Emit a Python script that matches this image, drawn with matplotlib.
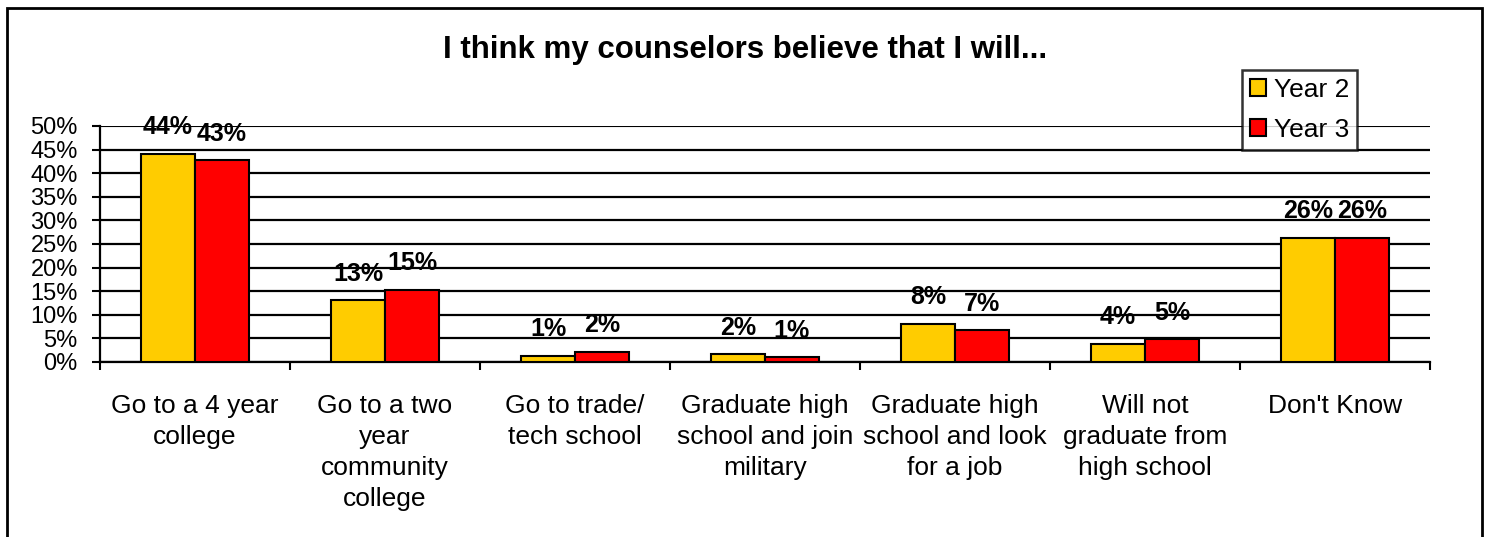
import numpy as np
import matplotlib.pyplot as plt
from matplotlib.patches import Rectangle
from matplotlib.ticker import PercentFormatter, FixedLocator

plt.rcParams['font.family'] = ['Liberation Sans', 'DejaVu Sans']

# --- data ---
categories = [
    "Go to a 4 year\ncollege",
    "Go to a two\nyear\ncommunity\ncollege",
    "Go to trade/\ntech school",
    "Graduate high\nschool and join\nmilitary",
    "Graduate high\nschool and look\nfor a job",
    "Will not\ngraduate from\nhigh school",
    "Don't Know",
]
year2 = [0.441, 0.131, 0.013, 0.017, 0.081, 0.039, 0.263]
year3 = [0.428, 0.153, 0.022, 0.010, 0.068, 0.048, 0.263]
series_names = ["Year 2", "Year 3"]
colors = ["#FFCC00", "#FF0000"]

W, H = 1490, 537
fig = plt.figure(figsize=(W / 100, H / 100), dpi=100)
ax = fig.add_axes([100 / W, 1 - 362 / H, 1330 / W, 236 / H])

x = np.arange(len(categories))
bw = 0.284
for i, (vals, name, c) in enumerate(zip([year2, year3], series_names, colors)):
    b = ax.bar(x + (i - 0.5) * bw, vals, width=bw, color=c, edgecolor='black',
               linewidth=1.5, label=name, zorder=3)
    for rect, v in zip(b, vals):
        ax.annotate(f"{v * 100:.0f}%", (rect.get_x() + rect.get_width() / 2, v),
                    xytext=(0, 19), textcoords='offset points', ha='center',
                    va='center', fontsize=18, fontweight='bold', annotation_clip=False,
                    zorder=5)

ax.set_xlim(-0.5, len(categories) - 0.5)
ax.set_ylim(0, 0.5)
ax.yaxis.set_major_locator(FixedLocator(np.arange(0, 0.501, 0.05)))
ax.yaxis.set_major_formatter(PercentFormatter(1.0, decimals=0))
ax.yaxis.grid(True, color='black', linewidth=1.6, zorder=0)
ax.get_ygridlines()[-1].set_linewidth(0.8)
ax.set_axisbelow(True)

# category labels centred, ticks on the boundaries
ax.set_xticks(x)
ax.set_xticklabels(categories, fontsize=19, linespacing=1.37, va='top')
ax.xaxis.set_minor_locator(FixedLocator(np.arange(-0.5, len(categories), 1.0)))
ax.tick_params(axis='x', which='major', length=0, pad=23)
ax.tick_params(axis='x', which='minor', length=6, width=1.5, direction='out')
ax.tick_params(axis='y', length=6, width=1.5, direction='out', pad=10, labelsize=17)

for s in ['top', 'right']:
    ax.spines[s].set_visible(False)
for s in ['left', 'bottom']:
    ax.spines[s].set_linewidth(1.6)

fig.text(0.5, 1 - 50 / H, "I think my counselors believe that I will...",
         ha='center', va='center', fontsize=22.5, fontweight='bold')

leg = ax.legend(loc='upper left', bbox_to_anchor=(1242 / W, 1 - 70 / H),
                bbox_transform=fig.transFigure, borderaxespad=0, fontsize=19,
                frameon=True, fancybox=False, handlelength=0.6, handleheight=0.6,
                handletextpad=0.3, labelspacing=0.6, borderpad=0.3)
leg.get_frame().set_edgecolor('black')
leg.get_frame().set_linewidth(1.8)
leg.set_zorder(10)

# outer chart border
fig.patches.append(Rectangle((7 / W, -0.05), (1482 - 7) / W, 1.05 - 8 / H,
                             transform=fig.transFigure, fill=False,
                             edgecolor='black', linewidth=2))

fig.savefig("out.png", dpi=100, facecolor='white')
